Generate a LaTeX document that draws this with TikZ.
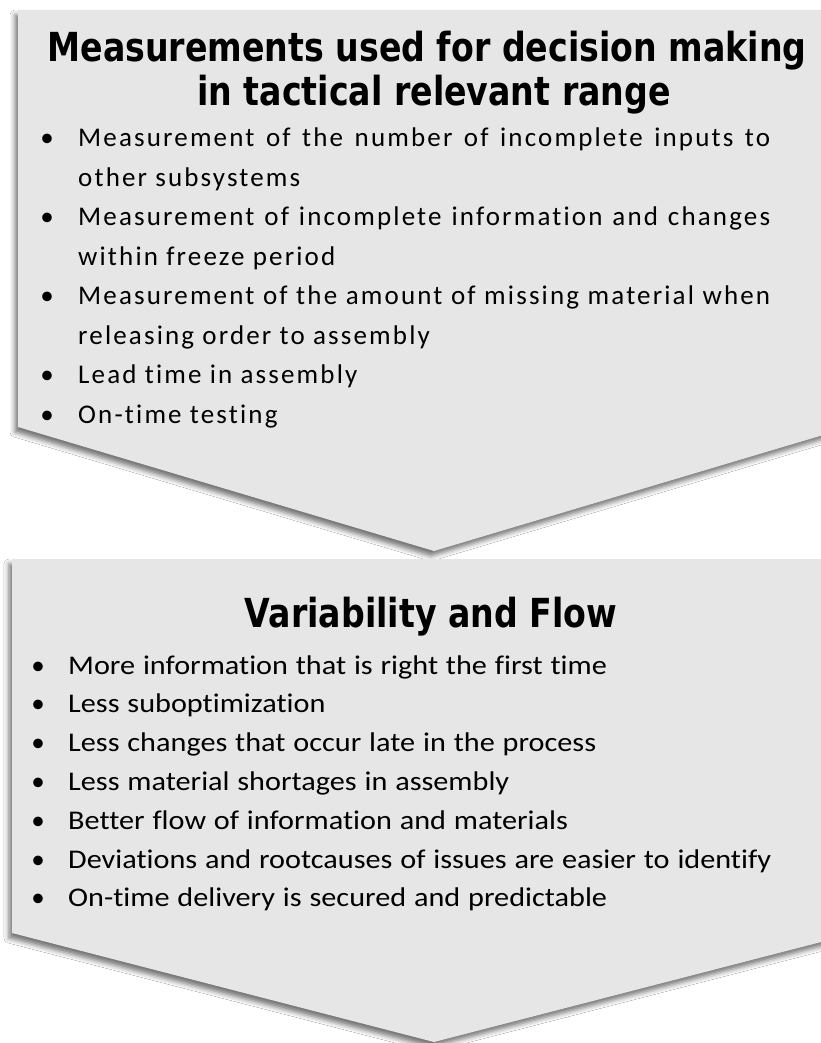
\documentclass[tikz,border=0pt]{standalone}
\usepackage{fontspec}
\usetikzlibrary{shadows.blur}
\setmainfont[Ligatures=NoCommon]{Carlito}
\newfontfamily\titlefont[FakeStretch=0.83]{DejaVu Sans Bold}
\newfontfamily\widefont[LetterSpace=8,Ligatures=NoCommon]{Carlito}
\newfontfamily\loosefont[FakeStretch=1.12,WordSpace=1.15,Ligatures=NoCommon]{Carlito}
\definecolor{boxgray}{RGB}{230,230,230}
% a line set flush to both margins
\newcommand{\fullline}[1]{\makebox[692pt][s]{#1}}
\tikzset{
  chevron/.style={fill=boxgray,
    blur shadow={shadow xshift=-3pt, shadow yshift=-5pt,
                 shadow blur radius=5pt, shadow opacity=55}},
  headline/.style={font=\titlefont\fontsize{40}{44}\selectfont, anchor=base, inner sep=0pt},
  itemA/.style={font=\widefont\fontsize{27}{39}\selectfont, anchor=base west, inner sep=0pt},
  itemB/.style={font=\loosefont\fontsize{27}{39}\selectfont, anchor=base west, inner sep=0pt},
  dotA/.style={font=\fontsize{27}{39}\selectfont, anchor=base, inner sep=0pt},
}
\begin{document}
\begin{tikzpicture}[x=1pt,y=-1pt]
\useasboundingbox (0,0) rectangle (821,1043);
\fill[white] (0,0) rectangle (821,1043);

% upper chevron
\path[chevron] (18,10) -- (850,10) -- (850,427) -- (434,551) -- (18,427) -- cycle;
% lower chevron
\path[chevron] (12,559) -- (856,559) -- (856,933) -- (434,1042) -- (12,933) -- cycle;

% upper block
\node[headline] (t1a) at (427,62) {Measurements used for decision making};
\node[headline] (t1b) at (434,106) {in tactical relevant range};

\node[dotA] (d1) at (47,146.7) {•};
\node[itemA] (a1) at (78,146.7) {\fullline{Measurement of the number of incomplete inputs to}};
\node[itemA] (a2) at (78,186.2) {other subsystems};
\node[dotA] (d2) at (47,225.7) {•};
\node[itemA] (a3) at (78,225.7) {\fullline{Measurement of incomplete information and changes}};
\node[itemA] (a4) at (78,265.2) {within freeze period};
\node[dotA] (d3) at (47,304.7) {•};
\node[itemA] (a5) at (78,304.7) {\fullline{Measurement of the amount of missing material when}};
\node[itemA] (a6) at (78,344.2) {releasing order to assembly};
\node[dotA] (d4) at (47,383.7) {•};
\node[itemA] (a7) at (78,383.7) {Lead time in assembly};
\node[dotA] (d5) at (47,423.2) {•};
\node[itemA] (a8) at (78,423.2) {On-time testing};

% lower block
\node[headline] (t2) at (431,627) {Variability and Flow};

\node[dotA] (e1) at (38,674) {•};
\node[itemB] (b1) at (68,674) {More information that is right the first time};
\node[dotA] (e2) at (38,712.8) {•};
\node[itemB] (b2) at (68,712.8) {Less suboptimization};
\node[dotA] (e3) at (38,751.6) {•};
\node[itemB] (b3) at (68,751.6) {Less changes that occur late in the process};
\node[dotA] (e4) at (38,790.4) {•};
\node[itemB] (b4) at (68,790.4) {Less material shortages in assembly};
\node[dotA] (e5) at (38,829.2) {•};
\node[itemB] (b5) at (68,829.2) {Better flow of information and materials};
\node[dotA] (e6) at (38,868) {•};
\node[itemB] (b6) at (68,868) {Deviations and rootcauses of issues are easier to identify};
\node[dotA] (e7) at (38,906.8) {•};
\node[itemB] (b7) at (68,906.8) {On-time delivery is secured and predictable};
\end{tikzpicture}
\end{document}
